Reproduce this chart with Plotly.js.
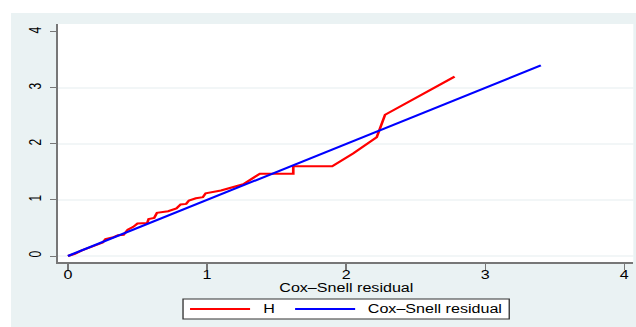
<!DOCTYPE html>
<html>
<head>
<meta charset="utf-8">
<script src="https://cdn.plot.ly/plotly-3.0.1.min.js"></script>
<style>
  html, body { margin: 0; padding: 0; background: #ffffff; width: 636px; height: 327px; overflow: hidden; }
  #chart { position: absolute; left: 11px; top: 13px; width: 466px; height: 314px;
           transform: scaleX(1.3412); transform-origin: 0 0; }
</style>
</head>
<body>
<div id="chart"></div>
<script>
// Nelson–Aalen cumulative hazard (H) against Cox–Snell residual
const residualH = [0, 0.05, 0.10, 0.15, 0.20, 0.25, 0.27, 0.32, 0.36, 0.40, 0.43, 0.47, 0.50, 0.57, 0.58, 0.62, 0.64, 0.72, 0.78, 0.81, 0.85, 0.87, 0.92, 0.97, 0.99, 1.10, 1.26, 1.38, 1.50, 1.62, 1.62, 1.90, 2.05, 2.22, 2.28, 2.78];
const hazardH   = [0, 0.04, 0.10, 0.15, 0.20, 0.24, 0.30, 0.33, 0.37, 0.38, 0.47, 0.52, 0.58, 0.59, 0.66, 0.68, 0.77, 0.80, 0.85, 0.92, 0.93, 0.99, 1.03, 1.05, 1.12, 1.17, 1.28, 1.47, 1.47, 1.47, 1.60, 1.60, 1.83, 2.12, 2.52, 3.20];
// 45-degree reference line: Cox–Snell residual against itself
const residualRef = [0, 3.40];
const tickValues = [0, 1, 2, 3, 4];
const tickLabels = ["0", "1", "2", "3", "4"];
const gridValues = [0, 1, 2, 3];
const seriesNames = ["H", "Cox\u2013Snell residual"];
const seriesColors = ["#ff0000", "#0000ff"];
const xTitle = "Cox\u2013Snell residual";

const font = "Liberation Sans, Arial, sans-serif";
const S = 1.3412;            // horizontal stretch applied by CSS
const W = 466, H = 314;
const M = { l: 47 / S, r: 3 / S, t: 11, b: 65 };
const pw = W - M.l - M.r, ph = H - M.t - M.b;
// convert displayed pixel position inside the figure to paper fraction
const px = x => (x / S - M.l) / pw;
const py = y => (H - M.b - y) / ph;

const traces = [
  { x: residualH, y: hazardH, type: "scatter", mode: "lines", name: seriesNames[0],
    line: { color: seriesColors[0], width: 2 } },
  { x: residualRef, y: residualRef, type: "scatter", mode: "lines", name: seriesNames[1],
    line: { color: seriesColors[1], width: 2 } }
];

const shapes = gridValues.map(v => ({
  type: "line", xref: "paper", x0: 0, x1: 1, yref: "y", y0: v, y1: v,
  line: { color: "#e6eef0", width: 1 }, layer: "below"
}));

// legend box (layout decoration)
const legY = 296;
shapes.push({ type: "rect", xref: "paper", yref: "paper",
  x0: px(172), x1: px(498), y0: py(286), y1: py(306),
  line: { color: "#333333", width: 1 }, fillcolor: "#ffffff" });
const sampleX = [[179, 239], [284, 344]];
const textX = [249, 354];
sampleX.forEach((s, i) => shapes.push({ type: "line", xref: "paper", yref: "paper",
  x0: px(s[0]), x1: px(s[1]), y0: py(legY), y1: py(legY),
  line: { color: seriesColors[i], width: 2 } }));

const annotations = seriesNames.map((n, i) => ({
  text: n, xref: "paper", yref: "paper", x: px(textX[i]), y: py(legY),
  xanchor: "left", yanchor: "middle", showarrow: false,
  font: { family: font, size: 12, color: "#000000" }
}));
annotations.push({
  text: xTitle, xref: "paper", yref: "paper", x: 0.5, y: py(275),
  xanchor: "center", yanchor: "middle", showarrow: false,
  font: { family: font, size: 12, color: "#000000" }
});

const layout = {
  width: W, height: H,
  margin: M,
  paper_bgcolor: "#eaf2f3",
  plot_bgcolor: "#ffffff",
  font: { family: font, size: 12, color: "#000000" },
  showlegend: false,
  shapes: shapes,
  annotations: annotations,
  xaxis: {
    range: [-0.072, 4.065], tickvals: tickValues, ticktext: tickLabels,
    showgrid: false, zeroline: false, showline: true, linecolor: "#777777", linewidth: 1.5,
    ticks: "outside", ticklen: 6, tickcolor: "#777777", tickwidth: 1,
    tickfont: { family: font, size: 12 }, ticklabelstandoff: -5,
    automargin: false, fixedrange: true
  },
  yaxis: {
    range: [-0.107, 4.14], tickvals: tickValues, ticktext: tickLabels,
    showgrid: false, zeroline: false, showline: true, linecolor: "#777777", linewidth: 1.5,
    ticks: "outside", ticklen: 4.5, tickcolor: "#777777", tickwidth: 1,
    tickangle: -90, tickfont: { family: font, size: 12 }, ticklabelstandoff: 2,
    automargin: false, fixedrange: true
  }
};

Plotly.newPlot("chart", traces, layout, { staticPlot: true, displayModeBar: false });
</script>
</body>
</html>
